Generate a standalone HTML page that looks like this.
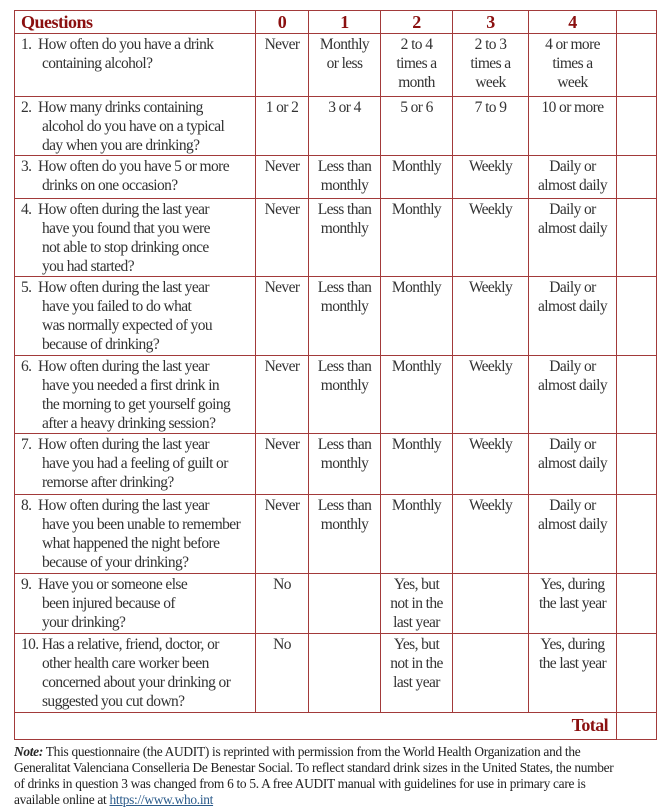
<!DOCTYPE html>
<html><head><meta charset="utf-8"><style>
body{margin:0;background:#fff;width:667px;height:802px;overflow:hidden;position:relative;font-family:"Liberation Serif",serif;color:#333;}
table{position:absolute;left:14px;top:10px;border-collapse:collapse;table-layout:fixed;width:642px;}
td{border:1.5px solid #a23a3a;vertical-align:top;font-size:15.5px;letter-spacing:-0.6px;line-height:19px;padding:1px 0 0 0;text-align:center;overflow:hidden;white-space:nowrap;}
td.q{text-align:left;padding-left:27px;text-indent:-21px;}
tr.h td{color:#8b1010;font-weight:bold;font-size:18px;line-height:20px;padding-top:1px;letter-spacing:-0.5px;}
tr.h td.q{padding-left:6px;text-indent:0;}
.note{position:absolute;left:14px;top:744px;width:650px;font-size:13.4px;letter-spacing:-0.3px;line-height:16px;color:#222;white-space:nowrap;}
a{color:#2a5a8a;text-decoration:underline;}
</style></head><body>
<table>
<colgroup><col style="width:241px"><col style="width:53px"><col style="width:72px"><col style="width:72px"><col style="width:76px"><col style="width:88px"><col style="width:40px"></colgroup>
<tr class="h" style="height:23px"><td class="q">Questions</td><td>0</td><td>1</td><td>2</td><td>3</td><td>4</td><td></td></tr>
<tr style="height:63px"><td class="q">1.&nbsp;&nbsp;How often do you have a drink<br>containing alcohol?</td><td>Never</td><td>Monthly<br>or less</td><td>2 to 4<br>times a<br>month</td><td>2 to 3<br>times a<br>week</td><td>4 or more<br>times a<br>week</td><td></td></tr>
<tr style="height:59px"><td class="q">2.&nbsp;&nbsp;How many drinks containing<br>alcohol do you have on a typical<br>day when you are drinking?</td><td>1 or 2</td><td>3 or 4</td><td>5 or 6</td><td>7 to 9</td><td>10 or more</td><td></td></tr>
<tr style="height:43px"><td class="q">3.&nbsp;&nbsp;How often do you have 5 or more<br>drinks on one occasion?</td><td>Never</td><td>Less than<br>monthly</td><td>Monthly</td><td>Weekly</td><td>Daily or<br>almost daily</td><td></td></tr>
<tr style="height:77px"><td class="q">4.&nbsp;&nbsp;How often during the last year<br>have you found that you were<br>not able to stop drinking once<br>you had started?</td><td>Never</td><td>Less than<br>monthly</td><td>Monthly</td><td>Weekly</td><td>Daily or<br>almost daily</td><td></td></tr>
<tr style="height:79px"><td class="q">5.&nbsp;&nbsp;How often during the last year<br>have you failed to do what<br>was normally expected of you<br>because of drinking?</td><td>Never</td><td>Less than<br>monthly</td><td>Monthly</td><td>Weekly</td><td>Daily or<br>almost daily</td><td></td></tr>
<tr style="height:78px"><td class="q">6.&nbsp;&nbsp;How often during the last year<br>have you needed a first drink in<br>the morning to get yourself going<br>after a heavy drinking session?</td><td>Never</td><td>Less than<br>monthly</td><td>Monthly</td><td>Weekly</td><td>Daily or<br>almost daily</td><td></td></tr>
<tr style="height:61px"><td class="q">7.&nbsp;&nbsp;How often during the last year<br>have you had a feeling of guilt or<br>remorse after drinking?</td><td>Never</td><td>Less than<br>monthly</td><td>Monthly</td><td>Weekly</td><td>Daily or<br>almost daily</td><td></td></tr>
<tr style="height:79px"><td class="q">8.&nbsp;&nbsp;How often during the last year<br>have you been unable to remember<br>what happened the night before<br>because of your drinking?</td><td>Never</td><td>Less than<br>monthly</td><td>Monthly</td><td>Weekly</td><td>Daily or<br>almost daily</td><td></td></tr>
<tr style="height:60px"><td class="q">9.&nbsp;&nbsp;Have you or someone else<br>been injured because of<br>your drinking?</td><td>No</td><td></td><td>Yes, but<br>not in the<br>last year</td><td></td><td>Yes, during<br>the last year</td><td></td></tr>
<tr style="height:79px"><td class="q">10. Has a relative, friend, doctor, or<br>other health care worker been<br>concerned about your drinking or<br>suggested you cut down?</td><td>No</td><td></td><td>Yes, but<br>not in the<br>last year</td><td></td><td>Yes, during<br>the last year</td><td></td></tr>
<tr style="height:27px"><td colspan="6" style="text-align:right;color:#8b1010;font-weight:bold;font-size:18px;padding-right:8px;padding-top:3px;">Total</td><td></td></tr>
</table>
<div class="note"><b><i>Note:</i></b> This questionnaire (the AUDIT) is reprinted with permission from the World Health Organization and the<br>Generalitat Valenciana Conselleria De Benestar Social. To reflect standard drink sizes in the United States, the number<br>of drinks in question 3 was changed from 6 to 5. A free AUDIT manual with guidelines for use in primary care is<br>available online at <a>https://www.who.int</a></div>
</body></html>
